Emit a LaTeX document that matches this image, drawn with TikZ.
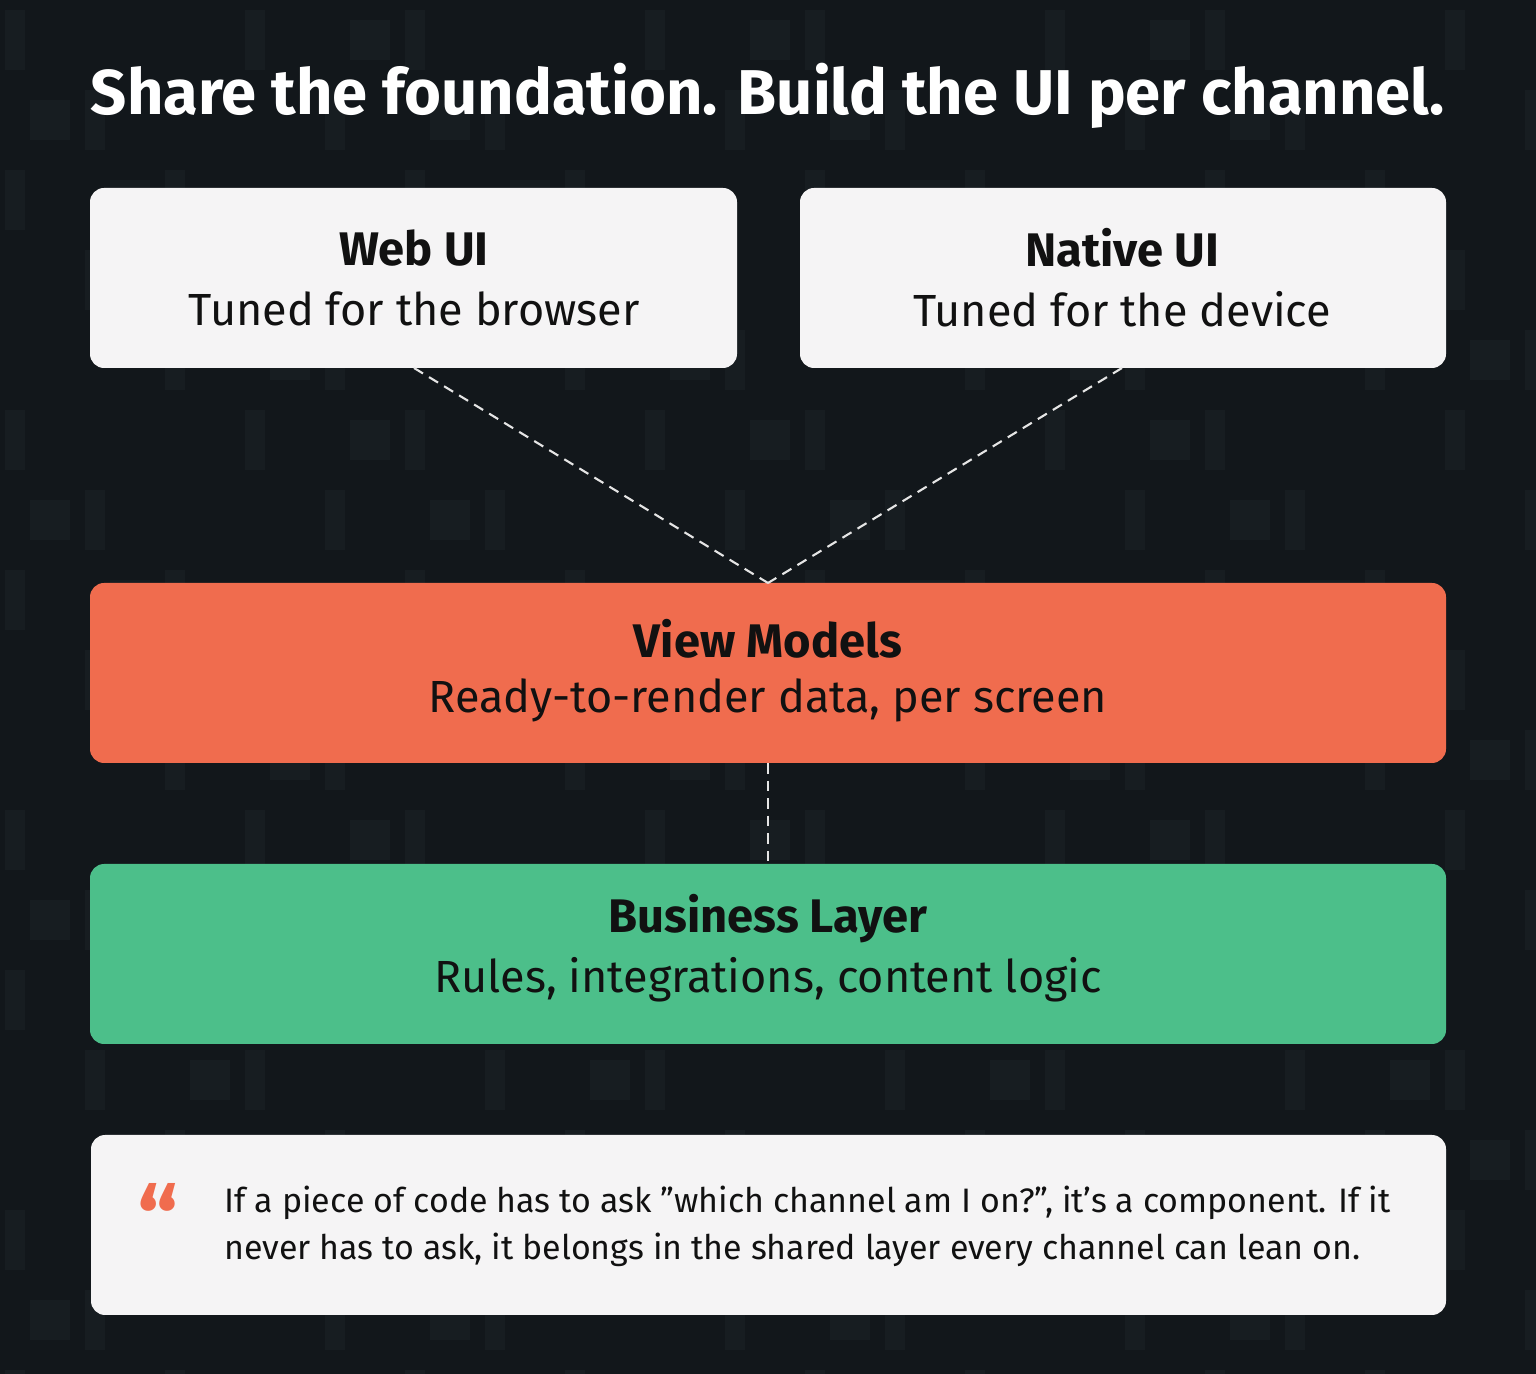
\documentclass[tikz,border=0pt]{standalone}
\usepackage{fontspec}
\setmainfont{Fira Sans}
\begin{document}
\definecolor{bg}{HTML}{12171B}
\definecolor{pat}{HTML}{171D21}
\definecolor{card}{HTML}{F5F4F5}
\definecolor{vm}{HTML}{F06C4E}
\definecolor{bl}{HTML}{4CBF8A}
\definecolor{ink}{HTML}{111111}
\newcommand{\dq}{\symbol{34}}
\newcommand{\sq}{\symbol{39}}
\begin{tikzpicture}[x=0.01cm,y=-0.01cm,
  box/.style={rounded corners=4pt,draw=none},
  ttl/.style={font=\fontsize{13.4}{15}\selectfont\bfseries,text=ink},
  sub/.style={font=\fontsize{12.8}{15}\selectfont,text=ink},
  link/.style={draw=white!90!black,line width=0.6pt,dash pattern=on 3pt off 2pt}]
\fill[bg] (0,0) rectangle (1536,1374);
\useasboundingbox (0,0) rectangle (1536,1374);
\foreach \i in {0,...,19}{\foreach \j in {0,...,17}{
  \pgfmathtruncatemacro{\r}{mod(\i*7+\j*13,5)}
  \ifnum\r<2 \fill[pat] (\i*80+5,\j*80+10) rectangle +(20,60);\fi
  \ifnum\r=3 \fill[pat] (\i*80+30,\j*80+20) rectangle +(40,40);\fi}}
\node[font=\fontsize{18}{21}\selectfont\bfseries,text=white] (title) at (768,96) {Share the foundation. Build the UI per channel.};
\fill[card,box] (90,188) rectangle (737,368);
\coordinate (web) at (414,368);
\node[ttl] (webt) at (414,248) {Web UI};
\node[sub] (webs) at (414,309) {Tuned for the browser};
\fill[card,box] (800,188) rectangle (1446,368);
\coordinate (nat) at (1122,368);
\node[ttl] (natt) at (1122,248) {Native UI};
\node[sub] (nats) at (1122,309) {Tuned for the device};
\fill[vm,box] (90,583) rectangle (1446,763);
\coordinate (vmtop) at (768,583);
\coordinate (vmbot) at (768,763);
\node[ttl] (vmt) at (768,639) {View Models};
\node[sub] (vms) at (768,700) {Ready-to-render data, per screen};
\fill[bl,box] (90,864) rectangle (1446,1044);
\coordinate (bltop) at (768,864);
\node[ttl] (blt) at (768,919) {Business Layer};
\node[sub] (bls) at (768,980) {Rules, integrations, content logic};
\draw[link] (web) -- (vmtop);
\draw[link] (nat) -- (vmtop);
\draw[link] (vmbot) -- (bltop);
\fill[card,box] (91,1135) rectangle (1446,1315);
\node[font=\fontsize{26}{26}\selectfont\bfseries,text=vm] (q) at (158,1218) {“};
\node[anchor=west,align=left,font=\fontsize{9.65}{13.4}\selectfont,text=ink] (qt) at (212,1226)
 {If a piece of code has to ask \dq which channel am I on?\dq, it\sq s a component. If it\\never has to ask, it belongs in the shared layer every channel can lean on.};
\end{tikzpicture}
\end{document}
